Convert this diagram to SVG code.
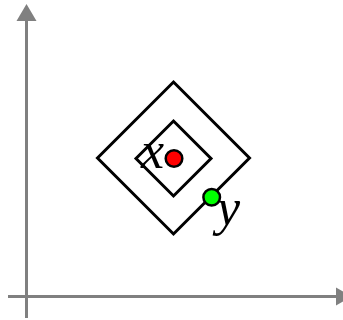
<svg xmlns="http://www.w3.org/2000/svg" width="343" height="320" viewBox="0 0 343 320">
<style>
.axis{stroke:#808080;stroke-width:3;fill:none}
.head{fill:#808080}
.dia{stroke:#000;stroke-width:3;fill:none}
.dot{stroke:#000;stroke-width:2.5}
.lbl{font-family:"Liberation Serif","Times New Roman",serif;font-style:italic;font-size:52px;fill:#000}
</style>
<rect width="343" height="320" fill="#fff"/>
<g id="axes">
<line class="axis" x1="26.5" y1="18" x2="26.5" y2="318"/>
<polygon class="head" points="26.5,4 16.5,21 36.5,21"/>
<line class="axis" x1="8" y1="296.5" x2="338" y2="296.5"/>
<polygon class="head" points="352,296.5 336,287.5 336,305.5"/>
</g>
<g id="outer">
<polygon class="dia" points="173.5,82 249.5,158 173.5,234 97.5,158"/>
</g>
<g id="inner">
<polygon class="dia" points="173.5,121 211,158.5 173.5,196 136,158.5"/>
</g>
<g id="x">
<text class="lbl" x="141" y="168">x</text>
<circle class="dot" cx="174" cy="158.5" r="8.3" fill="#ff0000"/>
</g>
<g id="y">
<text class="lbl" x="217" y="225">y</text>
<circle class="dot" cx="211.7" cy="197.3" r="8.3" fill="#00ff00"/>
</g>
</svg>
